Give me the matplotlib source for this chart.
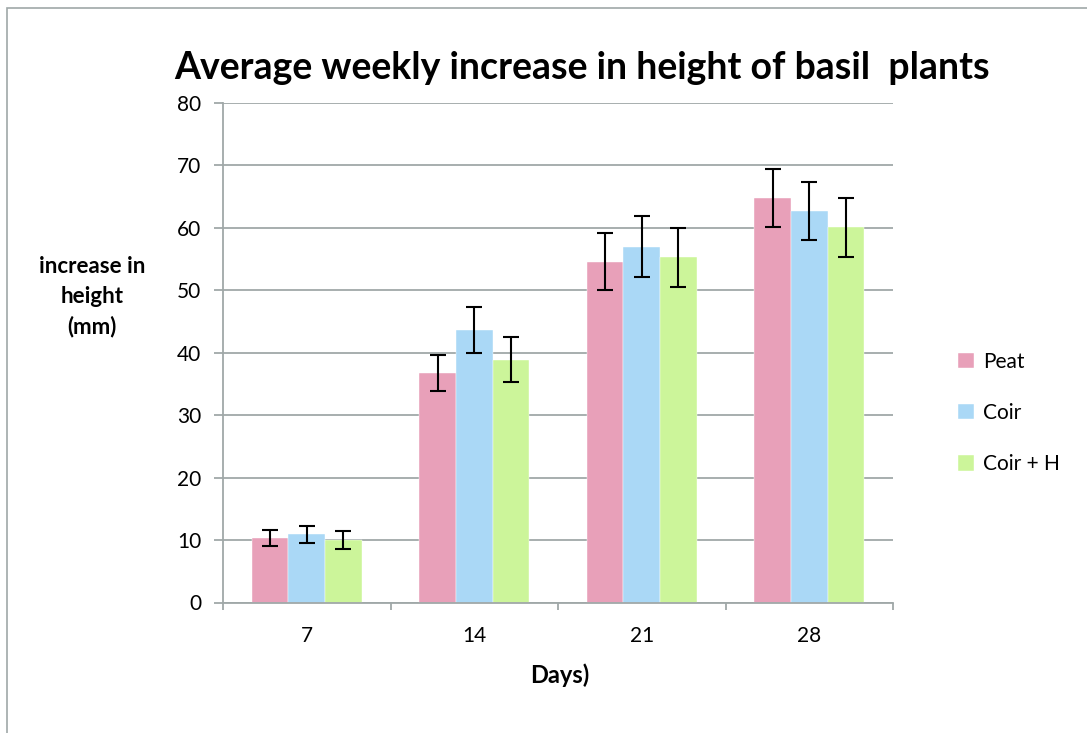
import matplotlib
matplotlib.use("Agg")
import matplotlib.pyplot as plt
import numpy as np
from matplotlib.patches import Rectangle

categories = ["7", "14", "21", "28"]
series = ["Peat", "Coir", "Coir + H"]
peat = [10.3, 36.8, 54.6, 64.8]
coir = [10.9, 43.6, 57.0, 62.7]
coir_h = [10.0, 38.9, 55.3, 60.1]
peat_err = [1.3, 2.85, 4.6, 4.7]
coir_err = [1.4, 3.65, 4.85, 4.65]
coir_h_err = [1.4, 3.55, 4.75, 4.7]
colors = ["#e8a0b9", "#aad8f6", "#ccf59a"]

plt.rcParams['font.family'] = ['Lato', 'DejaVu Sans']

fig = plt.figure(figsize=(10.87, 7.33), dpi=100)
W, H = 1087, 733
fig.patches.append(Rectangle((7 / W, -0.05), 1.2, 1 - 8 / H + 0.05, transform=fig.transFigure,
                             fill=False, edgecolor="#a0a8a8", linewidth=1.2))

ax = fig.add_axes([223 / W, 1 - 602.5 / H, (893 - 223) / W, (602.5 - 103) / H])
x = np.arange(len(categories))
bw = 0.219
for i, (vals, errs) in enumerate([(peat, peat_err), (coir, coir_err), (coir_h, coir_h_err)]):
    ax.bar(x + (i - 1) * bw, vals, bw, color=colors[i], label=series[i], zorder=2,
           edgecolor='white', linewidth=0.3)
    ax.errorbar(x + (i - 1) * bw, vals, yerr=errs, fmt='none', ecolor='black',
                elinewidth=1.5, capsize=5.5, capthick=1.5, zorder=3)

ax.set_xlim(-0.5, len(categories) - 0.5)
ax.set_ylim(0, 80)
ax.set_yticks(range(0, 81, 10))
ax.yaxis.grid(True, color="#a0a8a8", linewidth=1.3, zorder=0)
ax.set_axisbelow(True)
ax.set_xticks(x)
ax.set_xticklabels(categories, fontsize=15)
ax.tick_params(axis='x', length=0, pad=17)
ax.set_xticks(np.arange(-0.5, len(categories)), minor=True)
ax.tick_params(axis='x', which='minor', length=5, color="#a0a8a8", width=1.3)
ax.tick_params(axis='y', length=6.5, color="#a0a8a8", width=1.3, labelsize=15, pad=9)
for s in ['top', 'right']:
    ax.spines[s].set_visible(False)
for s in ['left', 'bottom']:
    ax.spines[s].set_color("#a0a8a8")
    ax.spines[s].set_linewidth(1.3)

fig.text(582 / W, 1 - 68 / H, "Average weekly increase in height of basil  plants",
         ha='center', va='center', fontsize=27, fontweight='bold')
fig.text(92 / W, 1 - 297 / H, "increase in\nheight\n(mm)", ha='center', va='center',
         fontsize=16, fontweight='bold', linespacing=1.5)
fig.text(560 / W, 1 - 675 / H, "Days)", ha='center', va='center', fontsize=17, fontweight='bold')

leg = ax.legend(loc='center left', bbox_to_anchor=(958 / W, 1 - 413 / H), bbox_transform=fig.transFigure,
                frameon=False, fontsize=15, handlelength=0.75, handleheight=0.75,
                labelspacing=1.5, handletextpad=0.45, borderaxespad=0, borderpad=0)

fig.savefig("out.png", dpi=100, facecolor='white')
